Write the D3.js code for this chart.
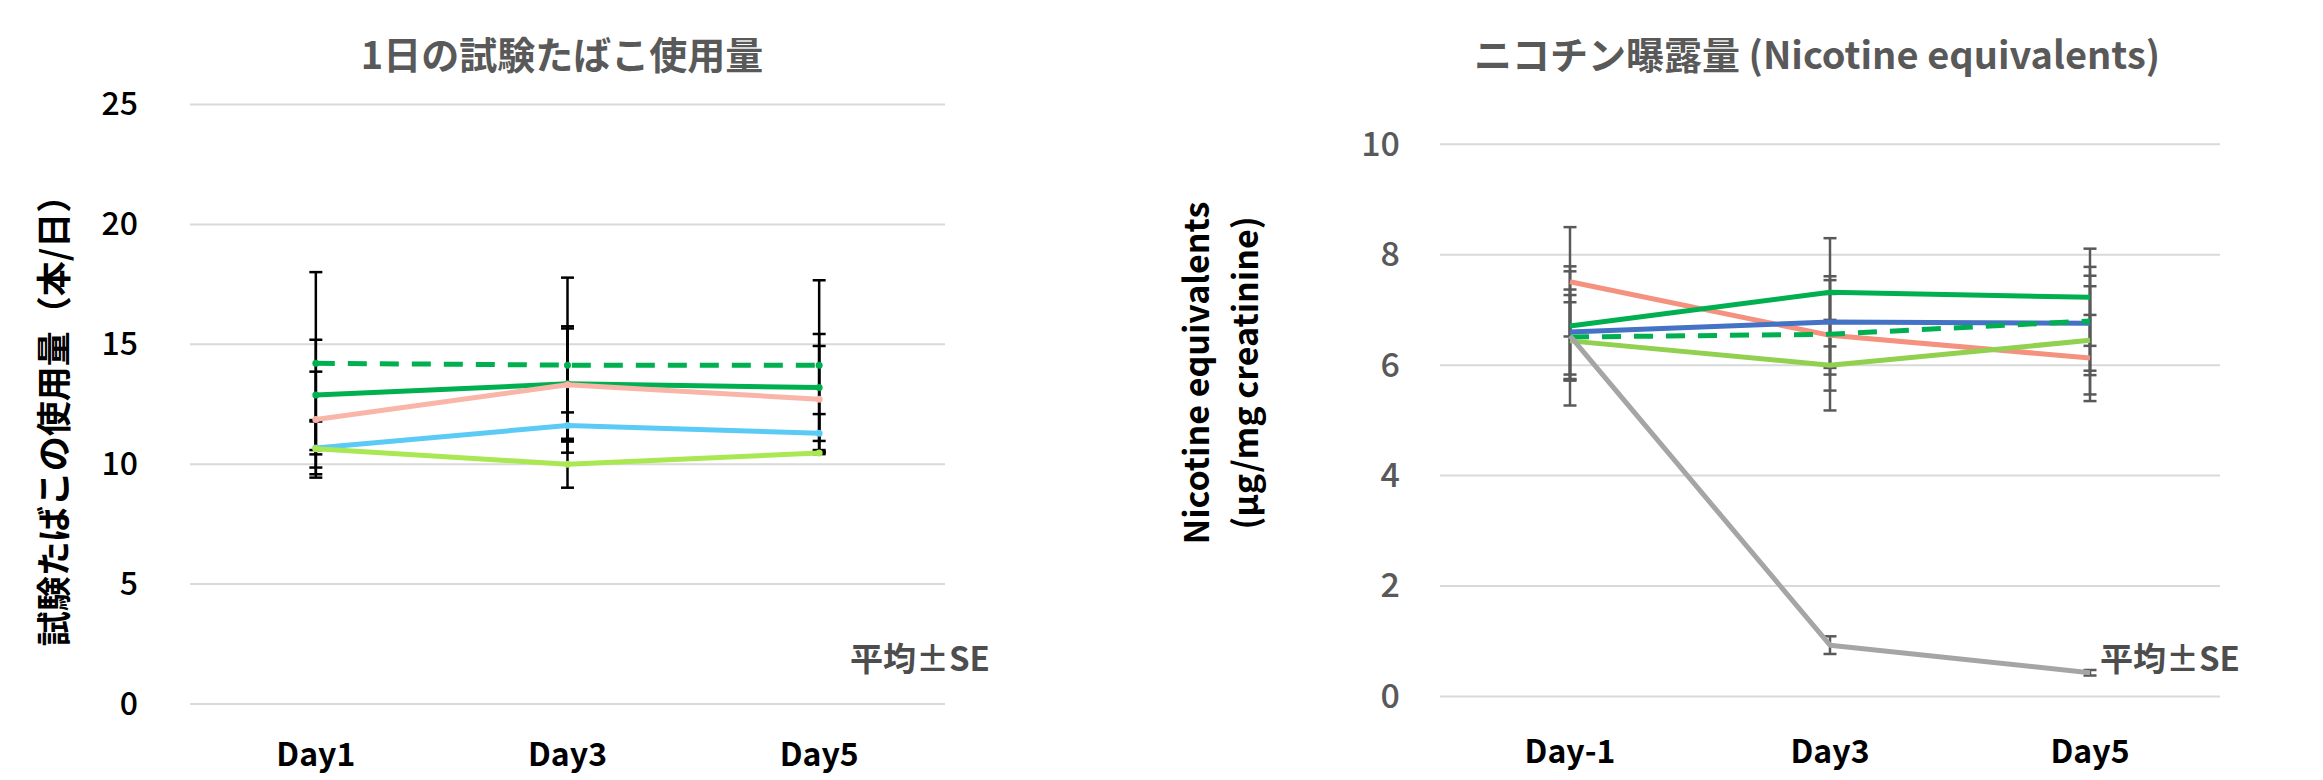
<!DOCTYPE html>
<html>
<head>
<meta charset="utf-8">
<script src="https://cdn.jsdelivr.net/npm/d3@7"></script>
<style>
  body { margin: 0; background: #fff; }
  text { font-family: "Noto Sans CJK JP", "Noto Sans", sans-serif; }
</style>
</head>
<body>
<svg id="chart" width="2323" height="780"></svg>
<script>
// ---- data: left chart (1日の試験たばこ使用量) ----
var leftDays = ["Day1", "Day3", "Day5"];
var leftTicks = [0, 5, 10, 15, 20, 25];
var useDash = [14.21, 14.13, 14.13], useDashSE = [3.8, 3.65, 3.54];
var useGreen = [12.89, 13.35, 13.2], useGreenSE = [2.3, 2.4, 2.23];
var usePink = [11.86, 13.31, 12.71], usePinkSE = [2.0, 2.35, 2.22];
var useBlue = [10.68, 11.61, 11.29], useBlueSE = [1.1, 0.55, 0.8];
var useLime = [10.64, 10.0, 10.47], useLimeSE = [1.2, 0.98, 0.05];

// ---- data: right chart (ニコチン曝露量) ----
var rightDays = ["Day-1", "Day3", "Day5"];
var rightTicks = [0, 2, 4, 6, 8, 10];
var nePink = [7.51, 6.54, 6.13], nePinkSE = [0.99, 1.0, 0.78];
var neGreen = [6.71, 7.32, 7.23], neGreenSE = [0.99, 0.98, 0.88];
var neBlue = [6.60, 6.78, 6.76], neBlueSE = [0.77, 0.83, 0.86];
var neDash = [6.51, 6.56, 6.80], neDashSE = [0.76, 0.73, 0.98];
var neLime = [6.44, 6.0, 6.45], neLimeSE = [0.7, 0.82, 0.98];
var neGray = [6.53, 0.93, 0.43], neGraySE = [1.26, 0.16, 0.05];

var svg = d3.select("#chart");

function panel(o) {
  var x = d3.scaleBand().domain(o.days).range([o.x0, o.x1]);
  var y = d3.scaleLinear().domain([0, o.ymax]).range([o.y0, o.y1]);
  var g = svg.append("g");

  // gridlines
  g.append("g").selectAll("line").data(o.ticks).enter().append("line")
    .attr("x1", o.x0).attr("x2", o.x1)
    .attr("y1", function(d) { return y(d); }).attr("y2", function(d) { return y(d); })
    .attr("stroke", "#d9d9d9").attr("stroke-width", 2);

  // y axis labels
  var ya = d3.axisLeft(y).tickValues(o.ticks).tickSize(0).tickPadding(0);
  var yg = g.append("g").attr("transform", "translate(" + o.tickX + ",0)").call(ya);
  yg.select(".domain").remove();
  yg.selectAll("text").attr("font-size", o.tickSize).attr("font-weight", 500)
    .attr("fill", o.tickColor).attr("font-family", "'Noto Sans', sans-serif");

  // x axis labels
  var xa = d3.axisBottom(x).tickSize(0).tickPadding(0);
  var xg = g.append("g").attr("transform", "translate(0," + o.labelY + ")").call(xa);
  xg.select(".domain").remove();
  xg.selectAll("text").attr("font-size", 32).attr("font-weight", 700).attr("fill", "#000")
    .attr("font-family", "'Noto Sans', sans-serif").attr("dy", "0");

  var cx = function(i) { return x(o.days[i]) + x.bandwidth() / 2; };

  // error bars under the lines
  o.series.forEach(function(s) {
    var eb = g.append("g").attr("stroke", o.barColor).attr("stroke-width", 2.5);
    s.v.forEach(function(v, i) {
      var hi = y(v + s.se[i]), lo = y(v - s.se[i]);
      eb.append("line").attr("x1", cx(i)).attr("x2", cx(i)).attr("y1", hi).attr("y2", lo);
      eb.append("line").attr("x1", cx(i) - 6.5).attr("x2", cx(i) + 6.5).attr("y1", hi).attr("y2", hi);
      eb.append("line").attr("x1", cx(i) - 6.5).attr("x2", cx(i) + 6.5).attr("y1", lo).attr("y2", lo);
    });
  });

  var line = d3.line().x(function(d, i) { return cx(i); }).y(function(d) { return y(d); });
  o.series.forEach(function(s) {
    g.append("path").datum(s.v).attr("d", line)
      .attr("fill", "none").attr("stroke", s.c).attr("stroke-width", 5)
      .attr("stroke-linejoin", "round")
      .attr("stroke-dasharray", s.dash ? "19,13" : null);
    if (o.dots) {
      g.append("g").selectAll("circle").data(s.v).enter().append("circle")
        .attr("cx", function(d, i) { return cx(i); }).attr("cy", function(d) { return y(d); })
        .attr("r", 3.5).attr("fill", s.c);
    }
  });

  // title
  g.append("text").attr("x", o.titleX).attr("y", 69).attr("text-anchor", "middle")
    .attr("font-size", 38).attr("font-weight", 700).attr("fill", "#595959").text(o.title);

  // note
  g.append("text").attr("x", o.noteX).attr("y", 671).attr("font-size", 33)
    .attr("font-weight", 700).attr("fill", "#4d4d4d").text("平均±SE");
  return g;
}

var left = panel({
  days: leftDays, ticks: leftTicks, ymax: 25,
  x0: 190, x1: 945, y0: 704, y1: 104.5,
  tickX: 138, tickSize: 32, tickColor: "#000", labelY: 766, barColor: "#000", dots: true,
  title: "1日の試験たばこ使用量", titleX: 562, noteX: 850,
  series: [
    { v: useDash, se: useDashSE, c: "#00b050", dash: true },
    { v: useGreen, se: useGreenSE, c: "#00b050" },
    { v: usePink, se: usePinkSE, c: "#f8b5a8" },
    { v: useBlue, se: useBlueSE, c: "#5bcbf5" },
    { v: useLime, se: useLimeSE, c: "#a9e852" }
  ]
});

var right = panel({
  days: rightDays, ticks: rightTicks, ymax: 10,
  x0: 1440, x1: 2220, y0: 696.5, y1: 144.3,
  tickX: 1400, tickSize: 34, tickColor: "#595959", labelY: 763, barColor: "#595959", dots: false,
  title: "ニコチン曝露量 (Nicotine equivalents)", titleX: 1817, noteX: 2100,
  series: [
    { v: nePink, se: nePinkSE, c: "#f4917f" },
    { v: neGreen, se: neGreenSE, c: "#00b050" },
    { v: neBlue, se: neBlueSE, c: "#4472c4" },
    { v: neDash, se: neDashSE, c: "#00b050", dash: true },
    { v: neLime, se: neLimeSE, c: "#92d050" },
    { v: neGray, se: neGraySE, c: "#a5a5a5" }
  ]
});

// y axis titles
svg.append("text").attr("transform", "translate(67,412) rotate(-90)")
  .attr("text-anchor", "middle").attr("font-size", 35).attr("font-weight", 700)
  .attr("fill", "#000").text("試験たばこの使用量（本/日）");

var rt = svg.append("text").attr("transform", "translate(1197,373) rotate(-90)")
  .attr("text-anchor", "middle").attr("font-size", 34).attr("font-weight", 600)
  .attr("fill", "#000").attr("font-family", "'Open Sans', sans-serif");
rt.append("tspan").attr("x", 0).attr("dy", "0.35em").text("Nicotine equivalents");
rt.append("tspan").attr("x", 0).attr("dy", "1.45em").text("(µg/mg creatinine)");
</script>
</body>
</html>
